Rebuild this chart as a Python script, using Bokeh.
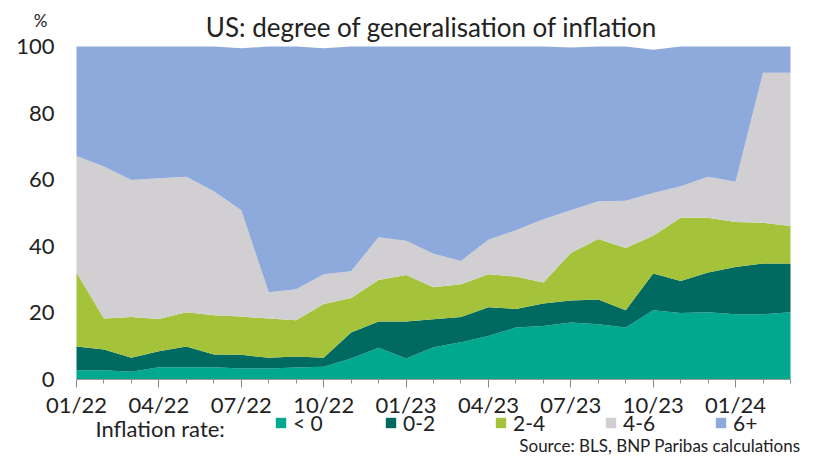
from bokeh.plotting import figure
from bokeh.models import (ColumnDataSource, Range1d, FixedTicker, Legend, LegendItem, Label)
from bokeh.embed import file_html
from bokeh.resources import INLINE

# ---- data (share of CPI components by inflation rate, %) ----
months = ["01/22", "02/22", "03/22", "04/22", "05/22", "06/22", "07/22", "08/22", "09/22",
          "10/22", "11/22", "12/22", "01/23", "02/23", "03/23", "04/23", "05/23", "06/23",
          "07/23", "08/23", "09/23", "10/23", "11/23", "12/23", "01/24", "02/24", "03/24"]
below_0 = [2.8, 2.8, 2.3, 3.7, 3.7, 3.7, 3.3, 3.3, 3.6, 3.8, 6.3, 9.5, 6.3, 9.7, 11.2, 13.1,
           15.6, 16.1, 17.1, 16.6, 15.6, 20.8, 20.0, 20.2, 19.6, 19.6, 20.2]
rate_0_2 = [7.1, 6.2, 4.2, 4.8, 6.2, 3.8, 4.1, 3.2, 3.3, 2.7, 7.8, 7.9, 11.1, 8.4, 7.6, 8.6,
            5.6, 6.7, 6.6, 7.4, 5.2, 11.0, 9.6, 11.9, 14.2, 15.2, 14.6]
rate_2_4 = [22.2, 9.3, 12.3, 9.7, 10.3, 11.8, 11.5, 11.8, 10.9, 16.2, 10.4, 12.5, 14.0, 9.6,
            9.8, 9.9, 9.7, 6.3, 14.3, 18.2, 18.7, 11.4, 19.0, 16.5, 13.5, 12.3, 11.3]
rate_4_6 = [35.0, 45.7, 41.1, 42.2, 40.7, 37.2, 31.9, 7.9, 9.3, 8.9, 8.0, 12.8, 10.3, 10.1,
            7.0, 10.4, 13.9, 19.0, 12.8, 11.3, 14.2, 12.8, 9.4, 12.3, 12.1, 45.0, 46.0]
rate_6_plus = [32.9, 36.0, 40.1, 39.6, 39.1, 43.5, 48.7, 73.8, 72.9, 67.9, 67.5, 57.3, 58.3,
               62.2, 64.4, 58.0, 55.2, 51.9, 48.9, 46.5, 46.3, 43.0, 42.0, 39.1, 40.6, 7.9, 7.9]
series_labels = ["< 0", "0-2", "2-4", "4-6", "6+"]
tick_labels = ["01/22", "04/22", "07/22", "10/22", "01/23", "04/23", "07/23", "10/23", "01/24"]
y_ticks = [0, 20, 40, 60, 80, 100]

colors = ["#00A88E", "#006A60", "#A5C33A", "#D1CFD1", "#8EAADC"]
FONT = "Lato"
TXT = "#222222"

# ---- layout (pixels) ----
W, H = 802, 455
PX_LEFT, PX_RIGHT = 76, 790      # first / last month
PX_TOP, PX_ZERO = 46, 379        # 100 % / 0 %

n = len(months)
xs = (PX_RIGHT - PX_LEFT) / (n - 1)
ys = (PX_ZERO - PX_TOP) / 100.0
x_range = Range1d(-PX_LEFT / xs, (n - 1) + (W - PX_RIGHT) / xs)
y_range = Range1d(-(H - PX_ZERO) / ys, 100 + PX_TOP / ys)

idx = list(range(n))
source = ColumnDataSource(dict(x=idx, s0=below_0, s1=rate_0_2, s2=rate_2_4,
                               s3=rate_4_6, s4=rate_6_plus))

p = figure(width=W, height=H, output_backend="svg", toolbar_location=None,
           x_range=x_range, y_range=y_range, min_border=0,
           min_border_left=0, min_border_right=0, min_border_top=0, min_border_bottom=0)
p.outline_line_color = None
p.grid.visible = False
p.background_fill_color = "white"
p.border_fill_color = "white"

renderers = p.varea_stack(stackers=["s0", "s1", "s2", "s3", "s4"], x="x",
                          color=colors, source=source)

# x axis drawn at value 0
major = [months.index(t) for t in tick_labels]
xa = p.xaxis[0]
xa.fixed_location = 0
xa.bounds = (0, n - 1)
xa.ticker = FixedTicker(ticks=major, minor_ticks=idx)
xa.major_label_overrides = {i: months[i] for i in major}
xa.axis_line_color = "#9a9a9a"
xa.major_tick_line_color = "#8c8c8c"
xa.minor_tick_line_color = "#8c8c8c"
xa.major_tick_in = 0
xa.major_tick_out = 8
xa.minor_tick_in = 0
xa.minor_tick_out = 4
xa.major_label_standoff = 3
xa.major_label_text_font = FONT
xa.major_label_text_font_size = "22px"
xa.major_label_text_color = TXT

# y axis drawn at the first month
ya = p.yaxis[0]
ya.fixed_location = 0
ya.ticker = FixedTicker(ticks=y_ticks)
ya.axis_line_color = None
ya.major_tick_line_color = None
ya.minor_tick_line_color = None
ya.major_tick_out = 0
ya.major_tick_in = 0
ya.major_label_standoff = 22
ya.major_label_text_font = FONT
ya.major_label_text_font_size = "22px"
ya.major_label_text_color = TXT

def add_text(txt, px, py, size, align="left"):
    p.add_layout(Label(x=px, y=H - py, x_units="screen", y_units="screen", text=txt,
                       text_font=FONT, text_font_size=size, text_color=TXT,
                       text_align=align, text_baseline="middle"))

add_text("US: degree of generalisation of inflation", 431, 26, "26px", "center")
add_text("%", 40, 20, "17px", "center")
add_text("Inflation rate:", 95, 428, "22px", "left")
add_text("Source: BLS, BNP Paribas calculations", 800, 445, "17px", "right")

items = [LegendItem(label=lab, renderers=[r]) for lab, r in zip(series_labels, renderers)]
legend = Legend(items=items, orientation="horizontal", location=(274, H - 435),
                glyph_width=13, glyph_height=13, label_standoff=6, label_width=91,
                label_height=13, spacing=0, padding=0, margin=0,
                border_line_color=None, background_fill_alpha=0,
                label_text_font=FONT, label_text_font_size="21px",
                label_text_color=TXT)
p.add_layout(legend, "center")

open("out.html", "w").write(file_html(p, INLINE))
